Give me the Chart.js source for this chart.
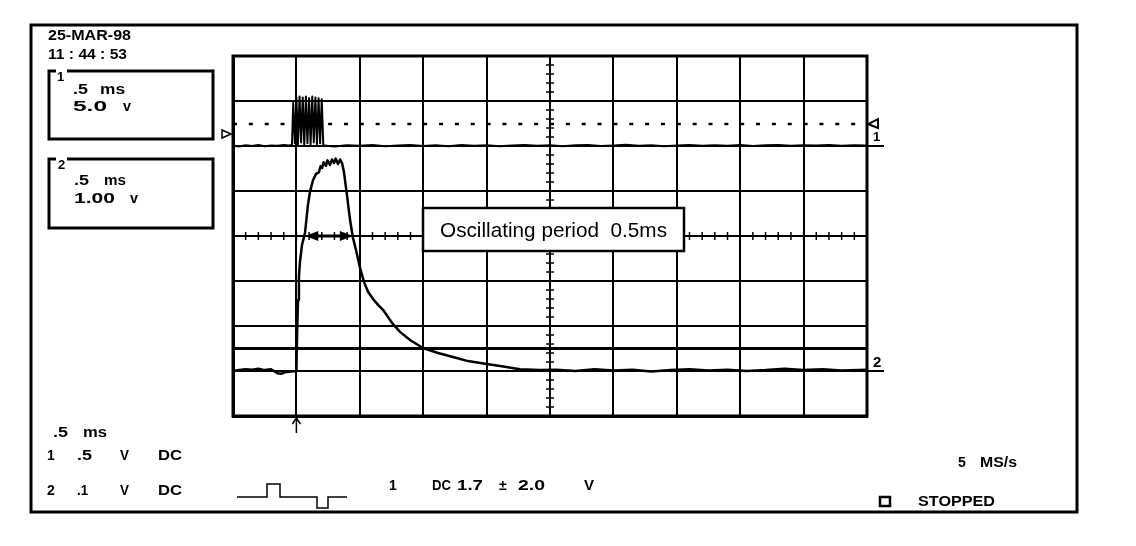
<!DOCTYPE html>
<html>
<head>
<meta charset="utf-8">
<title>Scope capture 25-MAR-98</title>
<script src="https://cdn.jsdelivr.net/npm/chart.js@4.4.1/dist/chart.umd.min.js"></script>
<style>
  html, body { margin: 0; padding: 0; background: #fff; }
  canvas { display: block; }
</style>
</head>
<body>
<canvas id="scope" width="1136" height="546"></canvas>
<script>
// screen: 10 divisions of .5 ms, 8 vertical divisions, trigger at t = 0
const timeMin = -0.5;
const timeMax = 4.5;
const timePerDiv = 0.5;
const divCount = 8;

// channel 1: 5.0 V/div, ground on division 6
const ch1VoltsPerDiv = 5.0;
const ch1Ground = 6;
const ch1TrigLevel = 2.44;   // dotted level line
const ch1Time = [-0.50, -0.45, -0.40, -0.35, -0.30, -0.25, -0.20, -0.15, -0.10, -0.06,
  -0.035, -0.025, -0.012, 0.000, 0.012, 0.025, 0.037, 0.050, 0.062, 0.075, 0.087,
  0.100, 0.112, 0.125, 0.137, 0.150, 0.162, 0.175, 0.187, 0.200, 0.212, 0.22,
  0.30, 0.40, 0.50, 0.60, 0.70, 0.80, 0.90, 1.00, 1.10, 1.20, 1.30, 1.40, 1.50,
  1.60, 1.70, 1.80, 1.90, 2.00, 2.10, 2.20, 2.30, 2.40, 2.50, 2.60, 2.70, 2.80,
  2.90, 3.00, 3.10, 3.20, 3.30, 3.40, 3.50, 3.60, 3.70, 3.80, 3.90, 4.00, 4.10,
  4.20, 4.30, 4.40, 4.50];
const ch1Volts = [0.05, -0.05, 0.08, 0.00, 0.10, -0.03, 0.06, 0.02, 0.12, 0.05,
  0.10, 4.80, 0.30, 5.40, 0.20, 5.50, 0.40, 5.40, 0.10, 5.50, 0.30,
  5.30, 0.20, 5.50, 0.40, 5.40, 0.20, 5.30, 0.30, 5.20, 0.10, 0.05,
  -0.05, 0.08, 0.02, 0.10, -0.02, 0.05, 0.12, 0.00, 0.07, -0.04, 0.10, 0.03, 0.08,
  -0.03, 0.06, 0.12, 0.02, 0.09, -0.02, 0.07, 0.10, 0.01, 0.06, 0.13, 0.03, 0.08,
  -0.02, 0.06, 0.11, 0.02, 0.09, 0.04, 0.10, -0.01, 0.07, 0.12, 0.03, 0.09, 0.05,
  0.11, 0.02, 0.08, 0.05];

// channel 2: 1.00 V/div, ground on division 1
const ch2VoltsPerDiv = 1.0;
const ch2Ground = 1;
const ch2Time = [-0.50, -0.45, -0.40, -0.35, -0.30, -0.25, -0.20, -0.15, -0.12, -0.08, -0.04,
  0.000, 0.006, 0.013, 0.020, 0.028, 0.044, 0.068, 0.091, 0.107, 0.131, 0.155, 0.178,
  0.190, 0.202, 0.215, 0.233, 0.245, 0.265, 0.280, 0.297, 0.310, 0.328, 0.345, 0.360,
  0.375, 0.399, 0.423, 0.446, 0.470, 0.502, 0.533, 0.565, 0.604, 0.644, 0.683, 0.722,
  0.762, 0.817, 0.896, 0.998, 1.117, 1.235, 1.353, 1.487, 1.606, 1.763, 1.921,
  2.05, 2.20, 2.35, 2.50, 2.65, 2.80, 2.95, 3.10, 3.25, 3.40, 3.55, 3.70, 3.85,
  4.00, 4.15, 4.30, 4.50];
const ch2Volts = [0.00, 0.02, 0.04, 0.03, 0.05, 0.02, 0.04, -0.05, -0.06, -0.02, -0.01,
  0.00, 0.90, 1.58, 2.10, 2.42, 2.80, 3.07, 3.69, 3.98, 4.24, 4.38, 4.42,
  4.55, 4.51, 4.64, 4.56, 4.68, 4.58, 4.70, 4.62, 4.72, 4.60, 4.70, 4.62,
  4.42, 3.91, 3.36, 2.96, 2.69, 2.29, 1.98, 1.76, 1.60, 1.47, 1.36, 1.20,
  1.04, 0.87, 0.69, 0.51, 0.40, 0.31, 0.22, 0.16, 0.11, 0.04, 0.02,
  0.03, 0.00, 0.04, 0.01, 0.03, -0.01, 0.02, 0.04, 0.01, 0.03, 0.00, 0.02,
  0.05, 0.02, 0.04, 0.01, 0.03];

// horizontal cursor and the marked period
const cursorDiv = 1.5;
const periodStart = 0.07;
const periodEnd = 0.445;

// volts -> screen divisions
function toDiv(times, volts, vpd, ground) {
  return times.map((t, i) => ({ x: t, y: ground + volts[i] / vpd }));
}

// text stretched sideways to the width it has on the scope screen
function txt(ctx, s, x, y, size, width, weight) {
  ctx.font = (weight || 'bold') + ' ' + size + 'px "Liberation Sans", Arial, sans-serif';
  let sx = 1;
  if (width) sx = width / ctx.measureText(s).width;
  ctx.save();
  ctx.translate(x, y);
  ctx.scale(sx, 1);
  ctx.fillText(s, 0, 0);
  ctx.restore();
}

function line(ctx, x1, y1, x2, y2) {
  ctx.beginPath();
  ctx.moveTo(x1, y1);
  ctx.lineTo(x2, y2);
  ctx.stroke();
}

const overlay = {
  id: 'overlay',
  afterDraw(chart) {
    const ctx = chart.ctx;
    const xs = chart.scales.x, ys = chart.scales.y;
    const a = chart.chartArea;
    ctx.save();
    ctx.strokeStyle = '#000';
    ctx.fillStyle = '#000';
    ctx.textBaseline = 'alphabetic';

    // outer frame and graticule edge
    ctx.lineWidth = 3;
    ctx.strokeRect(31, 25, 1046, 487);
    ctx.strokeRect(a.left, a.top, a.right - a.left, a.bottom - a.top);

    // cursor line
    const cy1 = ys.getPixelForValue(cursorDiv);
    line(ctx, a.left, cy1, a.right, cy1);

    // minor ticks on the centre lines
    const cx = xs.getPixelForValue((timeMin + timeMax) / 2);
    const cy = ys.getPixelForValue(divCount / 2);
    ctx.lineWidth = 1.5;
    for (let i = 0; i <= 50; i++) {
      const px = xs.getPixelForValue(timeMin + i * timePerDiv / 5);
      line(ctx, px, cy - 4, px, cy + 4);
    }
    for (let i = 0; i <= divCount * 5; i++) {
      const py = ys.getPixelForValue(i / 5);
      line(ctx, cx - 4, py, cx + 4, py);
    }

    // period arrow
    const ax1 = xs.getPixelForValue(periodStart), ax2 = xs.getPixelForValue(periodEnd);
    ctx.lineWidth = 3;
    line(ctx, ax1 + 8, cy, ax2 - 8, cy);
    ctx.beginPath();
    ctx.moveTo(ax1, cy); ctx.lineTo(ax1 + 13, cy - 5); ctx.lineTo(ax1 + 13, cy + 5); ctx.closePath();
    ctx.moveTo(ax2, cy); ctx.lineTo(ax2 - 13, cy - 5); ctx.lineTo(ax2 - 13, cy + 5); ctx.closePath();
    ctx.fill();

    // annotation box
    ctx.fillStyle = '#fff';
    ctx.fillRect(423, 208, 261, 43);
    ctx.fillStyle = '#000';
    ctx.lineWidth = 2.5;
    ctx.strokeRect(423, 208, 261, 43);
    txt(ctx, 'Oscillating period  0.5ms', 440, 237, 21, 227, 'normal');

    // channel markers
    const trigY = ys.getPixelForValue(ch1Ground + ch1TrigLevel / ch1VoltsPerDiv);
    const g1 = ys.getPixelForValue(ch1Ground), g2 = ys.getPixelForValue(ch2Ground);
    ctx.lineWidth = 1.5;
    ctx.beginPath();
    ctx.moveTo(a.left - 11, g1 - 16); ctx.lineTo(a.left - 2, g1 - 12); ctx.lineTo(a.left - 11, g1 - 8); ctx.closePath();
    ctx.stroke();
    ctx.lineWidth = 2;
    ctx.beginPath();
    ctx.moveTo(a.right + 11, trigY - 5); ctx.lineTo(a.right + 1, trigY); ctx.lineTo(a.right + 11, trigY + 4); ctx.closePath();
    ctx.stroke();
    line(ctx, a.right, g1, a.right + 17, g1);
    line(ctx, a.right, g2, a.right + 17, g2);
    txt(ctx, '1', a.right + 6, g1 - 5, 13);
    txt(ctx, '2', a.right + 6, g2 - 4, 15);

    // trigger point arrow
    const tx = xs.getPixelForValue(0);
    ctx.lineWidth = 1.5;
    line(ctx, tx, a.bottom + 2, tx, a.bottom + 17);
    line(ctx, tx - 4, a.bottom + 8, tx, a.bottom + 2);
    line(ctx, tx + 4, a.bottom + 8, tx, a.bottom + 2);

    // date / time
    txt(ctx, '25-MAR-98', 48, 40, 14, 83);
    txt(ctx, '11 : 44 : 53', 48, 59, 14, 79);

    // channel setting boxes
    ctx.lineWidth = 3;
    ctx.strokeRect(49, 71, 164, 68);
    ctx.strokeRect(49, 159, 164, 69);
    ctx.fillStyle = '#fff';
    ctx.fillRect(56, 68, 11, 6);
    ctx.fillRect(56, 156, 11, 6);
    ctx.fillStyle = '#000';
    txt(ctx, '1', 57, 81, 13);
    txt(ctx, '2', 58, 169, 13);
    txt(ctx, '.5', 73, 94, 14, 15);
    txt(ctx, 'ms', 100, 94, 14, 25);
    txt(ctx, '5.0', 73, 111, 14, 34);
    txt(ctx, 'v', 123, 111, 14, 8);
    txt(ctx, '.5', 74, 185, 14, 15);
    txt(ctx, 'ms', 104, 185, 14, 22);
    txt(ctx, '1.00', 74, 203, 14, 41);
    txt(ctx, 'v', 130, 203, 14, 8);

    // bottom settings
    txt(ctx, '.5', 53, 437, 14, 15);
    txt(ctx, 'ms', 83, 437, 14, 24);
    txt(ctx, '1', 47, 460, 14);
    txt(ctx, '.5', 77, 460, 14, 15);
    txt(ctx, 'V', 120, 460, 14, 9);
    txt(ctx, 'DC', 158, 460, 14, 24);
    txt(ctx, '2', 47, 495, 14);
    txt(ctx, '.1', 77, 495, 14, 11);
    txt(ctx, 'V', 120, 495, 14, 9);
    txt(ctx, 'DC', 158, 495, 14, 24);

    // trigger pulse symbol
    ctx.lineWidth = 1.5;
    ctx.beginPath();
    ctx.moveTo(237, 497); ctx.lineTo(267, 497); ctx.lineTo(267, 484); ctx.lineTo(280, 484);
    ctx.lineTo(280, 497); ctx.lineTo(317, 497); ctx.lineTo(317, 508); ctx.lineTo(328, 508);
    ctx.lineTo(328, 497); ctx.lineTo(347, 497);
    ctx.stroke();

    txt(ctx, '1', 389, 490, 14);
    txt(ctx, 'DC', 432, 490, 14, 19);
    txt(ctx, '1.7', 457, 490, 14, 26);
    txt(ctx, '\u00b1', 499, 490, 14);
    txt(ctx, '2.0', 518, 490, 14, 27);
    txt(ctx, 'V', 584, 490, 14, 10);

    txt(ctx, '5', 958, 467, 14);
    txt(ctx, 'MS/s', 980, 467, 14, 37);
    ctx.lineWidth = 2.5;
    ctx.strokeRect(880, 497, 10, 9);
    txt(ctx, 'STOPPED', 918, 506, 14, 77);

    ctx.restore();
  }
};

const traceStyle = {
  borderColor: '#000',
  borderWidth: 2.5,
  pointRadius: 0,
  tension: 0,
  borderJoinStyle: 'round',
  fill: false
};

new Chart(document.getElementById('scope'), {
  type: 'line',
  data: {
    datasets: [
      Object.assign({ label: 'CH1', data: toDiv(ch1Time, ch1Volts, ch1VoltsPerDiv, ch1Ground) }, traceStyle, { borderWidth: 2 }),
      Object.assign({ label: 'CH1 level',
        data: toDiv([timeMin, timeMax], [ch1TrigLevel, ch1TrigLevel], ch1VoltsPerDiv, ch1Ground) },
        traceStyle, { borderDash: [4, 11.85] }),
      Object.assign({ label: 'CH2', data: toDiv(ch2Time, ch2Volts, ch2VoltsPerDiv, ch2Ground) }, traceStyle)
    ]
  },
  options: {
    responsive: false,
    animation: false,
    events: [],
    layout: { padding: { left: 233, top: 56, right: 269, bottom: 130 } },
    plugins: { legend: { display: false }, tooltip: { enabled: false } },
    scales: {
      x: {
        type: 'linear', min: timeMin, max: timeMax,
        ticks: { display: false, stepSize: timePerDiv },
        grid: { color: '#000', lineWidth: 2, drawTicks: false },
        border: { color: '#000', width: 3 }
      },
      y: {
        type: 'linear', min: 0, max: divCount,
        ticks: { display: false, stepSize: 1 },
        grid: { color: '#000', lineWidth: 2, drawTicks: false },
        border: { color: '#000', width: 3 }
      }
    }
  },
  plugins: [overlay]
});
</script>
</body>
</html>
